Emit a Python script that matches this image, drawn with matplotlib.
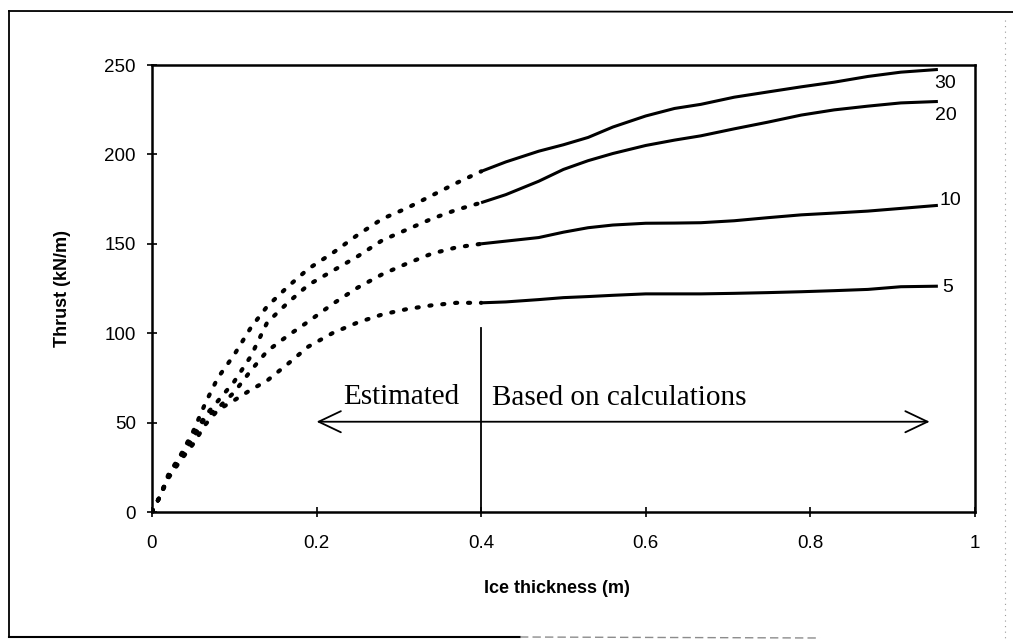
import matplotlib
matplotlib.use("Agg")
import matplotlib.pyplot as plt
from matplotlib.lines import Line2D

# ice thickness (m) for the estimated and the calculated parts
x_est = [0, 0.01, 0.02, 0.035, 0.05, 0.065, 0.08, 0.1, 0.12, 0.14, 0.165,
         0.19, 0.22, 0.25, 0.28, 0.31, 0.34, 0.37, 0.4]
x_calc = [0.4, 0.43, 0.47, 0.5, 0.53, 0.56, 0.6, 0.635, 0.667, 0.7075, 0.748,
          0.789, 0.829, 0.87, 0.91, 0.955]

# thrust (kN/m) for each curve
thrust_est = {
    "30": [0, 9, 21, 32, 45, 61, 75, 88, 103, 115, 126, 136, 145, 155, 164,
           170, 177, 184, 190.5],
    "20": [0, 9, 20, 31, 43, 54, 62, 73, 87, 106, 117, 127, 135, 143, 152,
           158, 164, 169, 173],
    "10": [0, 9, 20, 30, 41, 53, 58, 67, 79, 90, 98.6, 106.5, 116.5, 125.5,
           133, 139, 144.5, 148, 150],
    "5": [0, 9, 19, 29, 38, 49, 57, 62.5, 68.3, 73.5, 82.8, 92.5, 100.2, 106,
          110.5, 113.5, 115.6, 117, 117],
}
thrust_calc = {
    "30": [190.5, 195.8, 201.8, 205.4, 209.5, 215.3, 221.5, 225.7, 228, 232,
           234.9, 237.8, 240.4, 243.6, 246, 247.5],
    "20": [173, 177.5, 185, 191.6, 196.5, 200.5, 205, 208, 210.4, 214.3, 218,
           222, 224.9, 227, 228.8, 229.6],
    "10": [150, 151.5, 153.5, 156.5, 159, 160.5, 161.5, 161.6, 161.8, 162.9,
           164.6, 166.2, 167.2, 168.3, 169.8, 171.5],
    "5": [117, 117.5, 118.8, 119.9, 120.5, 121.2, 122, 122, 122, 122.3, 122.7,
          123.2, 123.8, 124.5, 126, 126.3],
}
# curve label positions (x, thrust)
label_pos = {"30": (0.95, 239.6), "20": (0.952, 222), "10": (0.957, 174),
             "5": (0.96, 125.6)}

split_x = 0.4
split_top = 103
arrow_y = 50.5
arrow_x = [0.2, 0.945]

plt.rcParams["font.family"] = ["Liberation Sans", "DejaVu Sans"]

fig = plt.figure(figsize=(10.13, 6.43), dpi=100)
ax = fig.add_axes([0.150, 0.2037, 0.8124, 0.6952])

for key in thrust_est:
    ax.plot(x_est, thrust_est[key], color="black", lw=3.0,
            linestyle=(0, (0.5, 2.6)), dash_capstyle="round")
    ax.plot(x_calc, thrust_calc[key], color="black", lw=2.2,
            solid_capstyle="butt")
    lx, ly = label_pos[key]
    ax.text(lx, ly, key, fontsize=14, ha="left", va="center")

ax.plot([split_x, split_x], [0, split_top], color="black", lw=1.3)
ax.annotate("", xy=(arrow_x[0], arrow_y), xytext=(arrow_x[1], arrow_y),
            arrowprops=dict(arrowstyle="<->,head_length=0.8,head_width=0.38",
                            mutation_scale=20, color="black", lw=1.3,
                            shrinkA=0, shrinkB=0))
ax.text(0.232, 60.4, "Estimated", family="Liberation Serif", fontsize=21,
        ha="left", va="baseline")
ax.text(0.413, 60, "Based on calculations", family="Liberation Serif",
        fontsize=21, ha="left", va="baseline")

ax.set_xlim(0, 1)
ax.set_ylim(0, 250)
ax.set_xticks([0, 0.2, 0.4, 0.6, 0.8, 1])
ax.set_xticklabels(["0", "0.2", "0.4", "0.6", "0.8", "1"])
ax.set_yticks([0, 50, 100, 150, 200, 250])
ax.tick_params(axis="both", direction="inout", length=7, width=1.2,
               labelsize=13.5)
ax.tick_params(axis="x", pad=13)
ax.tick_params(axis="y", pad=8)
for sp in ax.spines.values():
    sp.set_linewidth(1.8)

ax.set_xlabel("Ice thickness (m)", fontsize=13, fontweight="bold")
ax.set_ylabel("Thrust (kN/m)", fontsize=13, fontweight="bold")
ax.xaxis.set_label_coords(0.492, -0.152)
ax.yaxis.set_label_coords(-0.098, 0.5)

# page border around the chart
W, H = 1013, 643
def border(x0, y0, x1, y1, **kw):
    fig.add_artist(Line2D([x0 / W, x1 / W], [1 - y0 / H, 1 - y1 / H],
                          transform=fig.transFigure, **kw))

border(9, 11, 1013, 12, color="black", lw=1.3)
border(9, 11, 9, 637, color="black", lw=1.3)
border(9, 637, 520, 637, color="black", lw=1.5)
border(520, 637, 820, 638, color="0.55", lw=1.0, linestyle=(0, (6, 3)))
border(1005, 20, 1005, 640, color="0.6", lw=0.8, linestyle=(0, (1, 4)))

fig.savefig("out.png", dpi=100)
